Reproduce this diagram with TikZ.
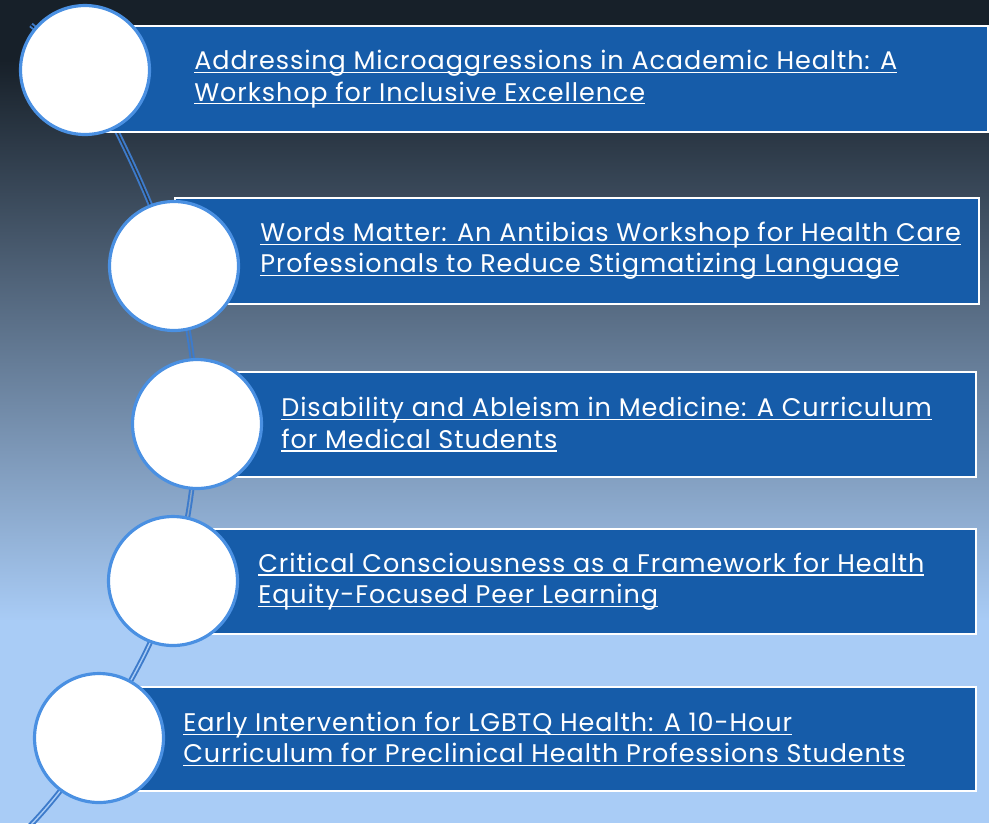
\documentclass[tikz,border=0pt]{standalone}
\usepackage{fontspec}
\setmainfont[Ligatures=NoCommon, LetterSpace=3.6]{Poppins}
\usetikzlibrary{positioning}

\definecolor{bgtop}{HTML}{172029}
\definecolor{bgbot}{HTML}{A9CCF6}
\definecolor{cardblue}{HTML}{165CA9}
\definecolor{ringblue}{HTML}{4A90E2}
\definecolor{lineblue}{HTML}{3D7BCB}

% underlined title line
\newlength\ulwd
\newcommand\uln[1]{\settowidth\ulwd{#1}\rlap{#1}\rule[-1.9pt]{\ulwd}{0.6pt}}

\pgfdeclarelayer{back}
\pgfsetlayers{back,main}

\tikzset{
  card/.style={draw=white, line width=1.1pt, fill=cardblue, anchor=west,
    minimum height=2.12cm, inner sep=0pt},
  dot/.style={circle, draw=ringblue, line width=1.8pt, fill=white,
    minimum size=2.58cm, inner sep=0pt},
  title/.style={anchor=west, align=left, text=white, inner sep=0pt,
    font=\fontsize{14.5}{17.8}\selectfont},
  thread/.style={draw=lineblue, line width=1.1pt, double distance=0.8pt}
}

\begin{document}
\begin{tikzpicture}[x=0.02cm,y=0.02cm]

  \useasboundingbox (0,0) rectangle (989,-823);
  \clip (0,0) rectangle (989,-823);

  % background
  \begin{pgfonlayer}{back}
    \fill[bgtop] (0,0) rectangle (989,-62);
    \shade[top color=bgtop, bottom color=bgbot] (0,-60) rectangle (989,-622);
    \fill[bgbot] (0,-620) rectangle (989,-823);
  \end{pgfonlayer}

  % cards
  \node[card, minimum width=18.04cm] (b1) at (85,-79) {};
  \node[card, minimum width=16.08cm] (b2) at (174,-251) {};
  \node[card, minimum width=15.56cm, minimum height=2.1cm] (b3) at (197,-424.5) {};
  \node[card, minimum width=16.04cm, minimum height=2.1cm] (b4) at (173,-581.5) {};
  \node[card, minimum width=17.52cm, minimum height=2.08cm] (b5) at (99,-739) {};

  % rings
  \node[dot] (c1) at (85,-70) {};
  \node[dot] (c2) at (174,-266) {};
  \node[dot] (c3) at (197,-424) {};
  \node[dot] (c4) at (173,-581) {};
  \node[dot] (c5) at (99,-738) {};

  % titles
  \node[title] (t1) at (194,-79) {\uln{Addressing Microaggressions in Academic Health: A}\\
    \uln{Workshop for Inclusive Excellence}};
  \node[title] (t2) at (260,-251) {\uln{Words Matter: An Antibias Workshop for Health Care}\\
    \uln{Professionals to Reduce Stigmatizing Language}};
  \node[title] (t3) at (281,-424.5) {\uln{Disability and Ableism in Medicine: A Curriculum}\\
    \uln{for Medical Students}};
  \node[title] (t4) at (258,-581.5) {\uln{Critical Consciousness as a Framework for Health}\\
    \uln{Equity-Focused Peer Learning}};
  \node[title] (t5) at (183,-739) {\uln{Early Intervention for LGBTQ Health: A 10-Hour}\\
    \uln{Curriculum for Preclinical Health Professions Students}};

  % thread
  \coordinate (top) at (31,-25);
  \coordinate (end) at (26,-830);
  \begin{pgfonlayer}{back}
    \draw[thread, double=bgtop] (top) -- (c1.center);
    \draw[thread, double=bgtop!85!bgbot] (c1.center) to[out=-62,in=110] (c2.center);
    \draw[thread, double=bgtop!50!bgbot] (c2.center) to[out=-76,in=92] (c3.center);
    \draw[thread, double=bgtop!22!bgbot] (c3.center) to[out=-93,in=75] (c4.center);
    \draw[thread, double=bgbot] (c4.center) to[out=-106,in=62] (c5.center);
    \draw[thread, double=bgbot] (c5.center) to[out=-126,in=46] (end);
  \end{pgfonlayer}

\end{tikzpicture}
\end{document}
